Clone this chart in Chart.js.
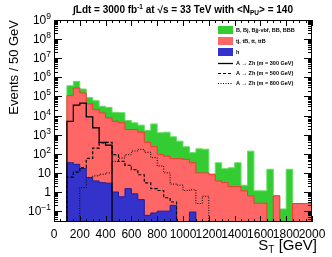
<!DOCTYPE html>
<html><head><meta charset="utf-8">
<script src="https://cdn.jsdelivr.net/npm/chart.js@4/dist/chart.umd.min.js"></script>
<style>html,body{margin:0;padding:0;background:#fff;}</style>
</head><body>
<canvas id="c" width="332" height="257"></canvas>
<script>
// ---- data (50 GeV bins, lower edges) ----
const binLow = [100,150,200,250,300,350,400,450,500,550,600,650,700,750,800,850,900,950,1000,1050,1100,1150,1200,1250,1300,1350,1400,1450,1500,1550,1600,1650,1700,1750,1800,1850,1900,1950];
const hVals  = [17,34,28,17,5.6,3.8,3.1,2.9,1.0,0.56,1.5,0.8,0.4,0.06,0.08,0.1,0.1,0.2,0,0,0.09,0,0,0,0,0,0,0,0,0,0,0,0,0,0,0,0,0];
const ttVals = [5000,109600,275400,151300,40700,20400,13800,7580,5010,4170,1860,1860,1350,398,234,93,76,55,55,51,34,10,10,8.5,3.8,3.1,1.9,1.9,1.15,0.63,0.26,0.26,0,0.63,0,0,0.25,0.25];
const bVals  = [35700,253400,341200,94100,48400,39800,17100,19300,9780,9960,3630,2310,1810,1260,3400,1166,1273,721,402,183,81,172,164,0,30,13.5,16.7,32,1.1,137,0.89,0.89,15.5,0,0.13,15.5,0,0];
const sig300 = [0,5000,35000,45000,8500,2300,400,280,0,0,0,0,0,0,0,0,0,0,0,0,0,0,0,0,0,0,0,0,0,0,0,0,0,0,0,0,0,0];
const sig500 = [0,6,11,19,57,200,370,400,90,40,25,15,8,3,1.5,1.2,0.5,0.3,0,0,0,0,0,0,0,0,0,0,0,0,0,0,0,0,0,0,0,0];
const sig800 = [0,0,0,1.7,5.8,7,8.5,10,40,60,90,140,170,120,63,23,10,2.6,2.3,1.2,1.3,0.25,0.6,0,0,0,0,0,0,0,0,0,0,0,0,0,0,0];
const xTicks = [0,200,400,600,800,1000,1200,1400,1600,1800,2000];
const yDecades = [-1,0,1,2,3,4,5,6,7,8,9];
const legendLabels = ['B, Bj, Bjj-vbf, BB, BBB','tj, tB, tt, ttB','h','A \u2192 Zh (m = 300 GeV)','A \u2192 Zh (m = 500 GeV)','A \u2192 Zh (m = 800 GeV)'];

const BIN = 50, FLOOR = 1e-4, YMIN = 0.027, YMAX = 1e9;
const FONT = "'Liberation Sans', Arial, Helvetica, sans-serif";

const blueTop  = hVals.map(v=>v);
const redTop   = hVals.map((v,i)=>v+ttVals[i]);
const greenTop = hVals.map((v,i)=>v+ttVals[i]+bVals[i]);

function steps(vals){
  const pts=[{x:binLow[0],y:FLOOR}];
  vals.forEach((v,i)=>pts.push({x:binLow[i],y:v>0?v:FLOOR}));
  const last=binLow[binLow.length-1]+BIN, lv=vals[vals.length-1];
  pts.push({x:last,y:lv>0?lv:FLOOR});
  pts.push({x:last,y:FLOOR});
  return pts;
}

const COLORS = {
  green:'#33cc33', greenLine:'#66dd66',
  red:'#ff6666', redLine:'#ff3333',
  blue:'#3333cc', blueLine:'#1f1f99'
};

const datasets = [
  {data:steps(greenTop), backgroundColor:COLORS.green, borderColor:COLORS.greenLine, fill:'start', order:10},
  {data:steps(redTop), backgroundColor:COLORS.red, borderColor:COLORS.redLine, fill:'start', order:9},
  {data:steps(blueTop), backgroundColor:COLORS.blue, borderColor:COLORS.blueLine, fill:'start', order:8},
  {data:steps(sig300), borderColor:'#000', fill:false, order:3, borderWidth:1.3},
  {data:steps(sig500), borderColor:'#000', fill:false, order:2, borderWidth:1.2, borderDash:[3,2]},
  {data:steps(sig800), borderColor:'#000', fill:false, order:1, borderWidth:1, borderDash:[1,1.5]},
].map(d=>Object.assign({stepped:'after', pointRadius:0, borderWidth:1}, d));

function rich(ctx, x, y, parts, align){
  let w=0;
  parts.forEach(p=>{ctx.font=(p.w||'')+' '+p.s+'px '+FONT; p.width=ctx.measureText(p.t).width; w+=p.width;});
  let cx = align==='right'? x-w : align==='center'? x-w/2 : x;
  ctx.textAlign='left'; ctx.textBaseline='alphabetic';
  parts.forEach(p=>{ctx.font=(p.w||'')+' '+p.s+'px '+FONT; ctx.fillText(p.t,cx,y+(p.dy||0)); cx+=p.width;});
}

const decor = {
  id:'decor',
  afterDraw(chart){
    const ctx=chart.ctx, a=chart.chartArea, xs=chart.scales.x, ys=chart.scales.y;
    ctx.save();
    ctx.strokeStyle='#000'; ctx.fillStyle='#000'; ctx.lineWidth=1;
    // frame
    ctx.strokeRect(Math.round(a.left)+0.5, Math.round(a.top)+0.5, Math.round(a.right-a.left)-1, Math.round(a.bottom-a.top)-1);
    ctx.beginPath();
    // y ticks
    for(let k=-2;k<=9;k++){
      for(let m=1;m<=9;m++){
        const v=m*Math.pow(10,k);
        if(v<YMIN||v>YMAX) continue;
        const y=Math.round(ys.getPixelForValue(v))+0.5;
        const L = m===1?8:4;
        ctx.moveTo(a.left,y); ctx.lineTo(a.left+L,y);
        ctx.moveTo(a.right,y); ctx.lineTo(a.right-L,y);
      }
    }
    // x ticks
    for(let g=0; g<=2000; g+=50){
      const x=Math.round(xs.getPixelForValue(g))+0.5;
      const L = g%200===0?6:3;
      ctx.moveTo(x,a.bottom); ctx.lineTo(x,a.bottom-L);
      ctx.moveTo(x,a.top); ctx.lineTo(x,a.top+L);
    }
    ctx.stroke();
    // y labels
    yDecades.forEach(k=>{
      const y=ys.getPixelForValue(Math.pow(10,k))+4;
      if(k===0) rich(ctx,a.left-3,y,[{t:'1',s:12}],'right');
      else if(k===1) rich(ctx,a.left-3,y,[{t:'10',s:12}],'right');
      else rich(ctx,a.left-3,y,[{t:'10',s:12},{t:String(k).replace('-','\u2212'),s:8.5,dy:-5}],'right');
    });
    // title
    rich(ctx,183,13,[{t:'\u222B',s:10,w:'bold'},{t:'Ldt = 3000 fb',s:10,w:'bold'},{t:'-1',s:6.5,w:'bold',dy:-4},{t:' at \u221As = 33 TeV with <N',s:10,w:'bold'},{t:'PU',s:6.5,w:'bold',dy:2},{t:'> = 140',s:10,w:'bold'}],'center');
    // x title
    rich(ctx,317,250,[{t:'S',s:15},{t:'T',s:10,dy:3},{t:' [GeV]',s:15}],'right');
    // y title
    ctx.save(); ctx.translate(18,20); ctx.rotate(-Math.PI/2);
    rich(ctx,0,0,[{t:'Events / 50 GeV',s:13}],'right');
    ctx.restore();
    // legend
    const bx=218, bw=15, tx=236;
    const boxes=[[COLORS.green,COLORS.greenLine,30],[COLORS.red,COLORS.redLine,41],[COLORS.blue,COLORS.blueLine,52]];
    boxes.forEach((b,i)=>{
      ctx.fillStyle=b[0]; ctx.fillRect(bx,b[2]-4,bw,8);
      ctx.fillStyle='#000'; rich(ctx,tx,b[2]+2,[{t:legendLabels[i],s:5.5,w:'bold'}],'left');
    });
    const lines=[[[],1.3,63],[[3,2],1.2,73],[[1,1.5],1,83]];
    lines.forEach((l,i)=>{
      ctx.setLineDash(l[0]); ctx.lineWidth=l[1]; ctx.strokeStyle='#000';
      ctx.beginPath(); ctx.moveTo(bx,l[2]+0.5); ctx.lineTo(bx+bw,l[2]+0.5); ctx.stroke();
      ctx.setLineDash([]);
      rich(ctx,tx,l[2]+2,[{t:legendLabels[3+i],s:5.5,w:'bold'}],'left');
    });
    ctx.restore();
  }
};

new Chart(document.getElementById('c'), {
  type:'line',
  data:{datasets},
  options:{
    responsive:false, animation:false, devicePixelRatio:1,
    layout:{padding:{left:0,top:20,right:20,bottom:0}},
    plugins:{legend:{display:false}, tooltip:{enabled:false}, title:{display:false}},
    scales:{
      x:{type:'linear', min:0, max:2000,
         afterBuildTicks:s=>{s.ticks=xTicks.map(v=>({value:v}));},
         afterFit:s=>{s.height=35;},
         grid:{display:false, drawTicks:false}, border:{display:false},
         ticks:{autoSkip:false, maxRotation:0, minRotation:0, padding:5, color:'#000', font:{family:FONT,size:12}, callback:v=>String(v)}},
      y:{type:'logarithmic', min:YMIN, max:YMAX,
         afterFit:s=>{s.width=54;},
         grid:{display:false, drawTicks:false}, border:{display:false},
         ticks:{display:false}}
    }
  },
  plugins:[decor]
});
</script>
</body></html>
